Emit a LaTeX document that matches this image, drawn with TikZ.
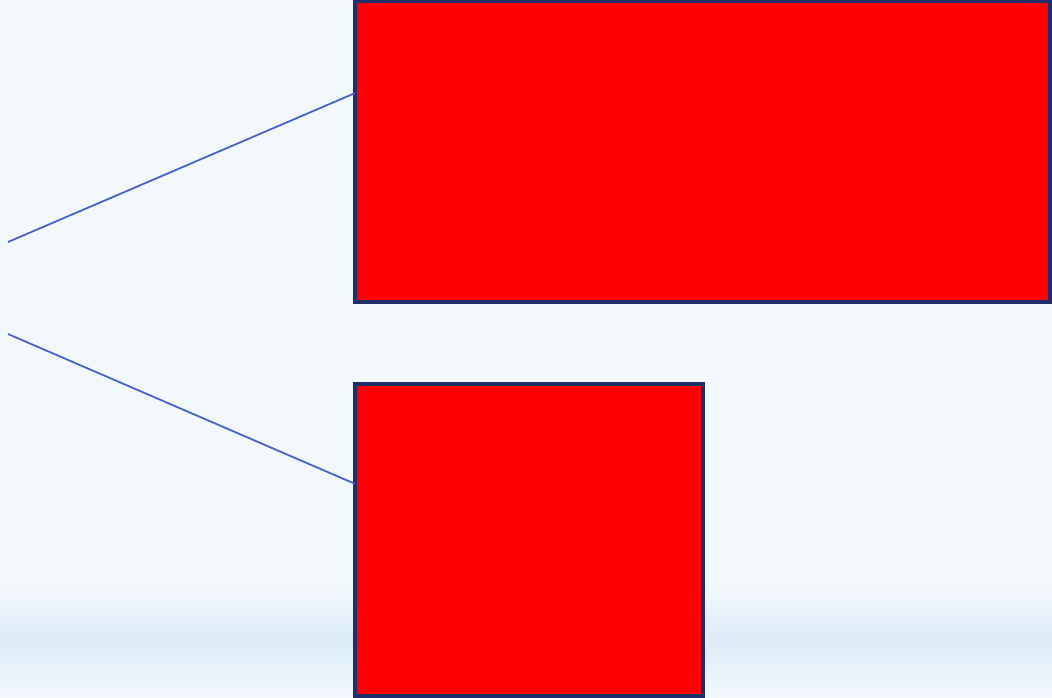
\documentclass[tikz,border=0pt]{standalone}
\usetikzlibrary{calc}
\definecolor{bgc}{HTML}{F3F8FD}
\definecolor{bandc}{HTML}{DCEBF8}
\definecolor{navy}{HTML}{1F2E6A}
\definecolor{linec}{HTML}{4A62CC}
\definecolor{redc}{HTML}{FF0000}
\tikzset{
  redbox/.style={draw=navy, fill=redc, line width=3.2pt, inner sep=0pt, outer sep=0pt},
  conn/.style={draw=linec, line width=1.8pt}
}
\begin{document}
\begin{tikzpicture}[x=1pt,y=-1pt]
\useasboundingbox (0,0) rectangle (1052,697);
\fill[bgc] (0,0) rectangle (1052,697);
\shade[top color=bgc, bottom color=bandc] (0,585) rectangle (1052,640);
\shade[top color=bandc, bottom color=bgc] (0,640) rectangle (1052,697);
\node[redbox, minimum width=695pt, minimum height=301pt] (r1) at (702.5,151.5) {};
\node[redbox, minimum width=348pt, minimum height=312pt] (r2) at (529,540) {};
\coordinate (a1) at (8,242);
\coordinate (a2) at (8,334);
\draw[conn] (a1) -- ($(r1.north west)!0.306!(r1.south west)$);
\draw[conn] (a2) -- ($(r2.north west)!0.32!(r2.south west)$);
\end{tikzpicture}
\end{document}
